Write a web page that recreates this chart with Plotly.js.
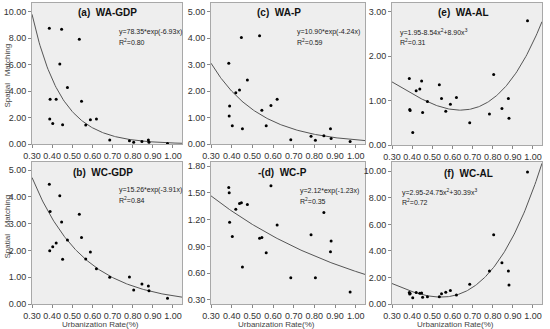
<!DOCTYPE html>
<html>
<head>
<meta charset="utf-8">
<script src="https://cdn.plot.ly/plotly-3.0.1.min.js"></script>
<style>html,body{margin:0;padding:0;background:#fff;}#chart{width:550px;height:329px;}</style>
</head>
<body>
<div id="chart"></div>
<script>
// Urbanization rate of each region (shared x values)
const urbanRate = [0.386, 0.388, 0.390, 0.403, 0.420, 0.438, 0.447, 0.452, 0.476, 0.535, 0.546, 0.567, 0.590, 0.620, 0.686, 0.784, 0.805, 0.846, 0.878, 0.881, 0.973];
// Spatial matching values per panel
const waGdp = [8.74, 1.89, 3.38, 1.54, 3.38, 6.05, 8.67, 1.46, 4.26, 7.91, 3.22, 1.44, 1.84, 1.89, 0.30, 0.25, 0.13, 0.18, 0.30, 0.13, 0.03];
const waP   = [3.05, 1.06, 1.44, 0.69, 1.94, 2.04, 4.03, 0.58, 2.42, 4.09, 1.28, 0.69, 1.46, 1.69, 0.16, 0.29, 0.14, 0.31, 0.58, 0.21, 0.09];
const waAl  = [1.50, 0.80, 0.78, 0.28, 1.22, 1.26, 1.44, 0.73, 0.98, 1.36, 1.05, 0.76, 0.92, 1.07, 0.50, 0.70, 1.59, 0.82, 1.05, 0.60, 2.80];
const wcGdp = [4.47, 1.99, 3.45, 2.14, 2.28, 4.04, 3.06, 1.67, 2.39, 3.35, 2.48, 1.68, 1.94, 1.32, 1.00, 1.01, 0.52, 0.75, 0.67, 0.49, 0.21];
const wcP   = [1.56, 1.50, 1.17, 1.01, 1.315, 1.38, 1.39, 0.67, 1.37, 0.99, 1.00, 0.83, 1.58, 1.14, 0.55, 1.03, 0.55, 1.28, 0.84, 0.96, 0.39];
const wcAl  = [0.86, 0.76, 0.80, 0.48, 0.86, 0.81, 0.83, 0.50, 0.55, 0.55, 0.78, 0.88, 1.01, 0.68, 1.49, 2.49, 5.21, 3.10, 2.49, 1.44, 9.95];
// Fitted model coefficients shown on the chart
const fitWaGdp = [78.35, -6.93];   // a*exp(b x)
const fitWaP   = [10.90, -4.24];
const fitWcGdp = [15.26, -3.91];
const fitWcP   = [2.12, -1.23];
const fitWaAl  = [1.95, -8.54, 8.90];   // c0 + c2 x^2 + c3 x^3
const fitWcAl  = [2.95, -24.75, 30.39];
// Labels
const panelTitles = ["(a)  WA-GDP", "(c)  WA-P", "(e)  WA-AL", "(b)  WC-GDP", "-(d)  WC-P", "(f)  WC-AL"];
const eqTexts = ["y=78.35*exp(-6.93x)", "y=10.90*exp(-4.24x)", "y=1.95-8.54x<sup>2</sup>+8.90x<sup>3</sup>",
                 "y=15.26*exp(-3.91x)", "y=2.12*exp(-1.23x)", "y=2.95-24.75x<sup>2</sup>+30.39x<sup>3</sup>"];
const r2Texts = ["R<sup>2</sup>=0.80", "R<sup>2</sup>=0.59", "R<sup>2</sup>=0.31", "R<sup>2</sup>=0.84", "R<sup>2</sup>=0.35", "R<sup>2</sup>=0.72"];
const xTitle = "Urbanization Rate(%)";
const yTitle = "Spatial   Matching";

const W = 550, H = 329;
const px = x => x / W, py = y => 1 - y / H;
const FONT = "Liberation Sans, Arial, sans-serif";

// panel boxes in pixels [left, right, top, bottom]
const boxes = [[32,182,3,144],[211,365,3,144],[392,542,3,145],[32,182,162,304],[211,365,162,304],[392,542,162,304]];
const yRanges = [[0,10.65],[0,5.33],[0,3.2],[0,5.3],[0.255,1.845],[0,10.7]];
const yDticks = [2,1,1,1,0.3,2];
const yTick0 = [0,0,0,0,0.3,0];
const series = [waGdp, waP, waAl, wcGdp, wcP, wcAl];
const expFit = c => x => c[0]*Math.exp(c[1]*x);
const cubFit = c => x => c[0] + c[1]*x*x + c[2]*x*x*x;
const fits = [expFit(fitWaGdp), expFit(fitWaP), cubFit(fitWaAl), expFit(fitWcGdp), expFit(fitWcP), cubFit(fitWcAl)];

const grid = [];
for (let i = 0; i <= 149; i++) grid.push(0.30 + i*0.005);

const data = [], layout = {
  width: W, height: H, margin: {l:0,r:0,t:0,b:0}, paper_bgcolor: "#ffffff",
  showlegend: false, font: {family: FONT, color: "#333"}, annotations: [], shapes: []
};

for (let k = 0; k < 6; k++) {
  const s = k === 0 ? "" : String(k+1);
  const b = boxes[k];
  data.push({x: grid, y: grid.map(fits[k]), xaxis: "x"+s, yaxis: "y"+s, type: "scatter", mode: "lines",
             line: {color: "#555", width: 1}, hoverinfo: "skip"});
  data.push({x: urbanRate, y: series[k], xaxis: "x"+s, yaxis: "y"+s, type: "scatter", mode: "markers",
             marker: {color: "#000", size: 3, symbol: "circle"}});
  const axCommon = {showgrid: false, zeroline: false, showline: true, mirror: true, linecolor: "#a8a8a8", linewidth: 1,
                    ticks: "outside", ticklen: 3, tickcolor: "#888", tickfont: {size: 9, color: "#333", family: FONT},
                    tickangle: 0, tickformat: ".2f", fixedrange: true};
  layout["xaxis"+s] = Object.assign({}, axCommon, {domain: [px(b[0]), px(b[1])], range: [0.30, 1.045],
                    tick0: 0.3, dtick: 0.1, anchor: "y"+s});
  layout["yaxis"+s] = Object.assign({}, axCommon, {domain: [py(b[3]), py(b[2])], range: yRanges[k],
                    tick0: yTick0[k], dtick: yDticks[k], anchor: "x"+s});
  layout.shapes.push({type: "rect", xref: "paper", yref: "paper",
    x0: px(b[0]), x1: px(b[1]), y0: py(b[3]), y1: py(b[2]), fillcolor: "#eeeeee", line: {width: 0}, layer: "below"});
}

const titlePos = [[107,13],[279,13],[463,13],[103,172],[282,172],[468,173]];
const eqPos = [[117,32],[295,32],[398,32],[117,190],[298,191],[400,192]];
titlePos.forEach((p, k) => layout.annotations.push({xref: "paper", yref: "paper", x: px(p[0]), y: py(p[1]),
  text: "<b>" + panelTitles[k] + "</b>", showarrow: false, xanchor: "center", yanchor: "middle",
  font: {size: 10, color: "#111", family: FONT}}));
eqPos.forEach((p, k) => {
  layout.annotations.push({xref: "paper", yref: "paper", x: px(p[0]), y: py(p[1]), text: eqTexts[k], showarrow: false,
    xanchor: "left", yanchor: "middle", font: {size: 7, color: "#222", family: FONT}});
  layout.annotations.push({xref: "paper", yref: "paper", x: px(p[0]), y: py(p[1]+10), text: r2Texts[k], showarrow: false,
    xanchor: "left", yanchor: "middle", font: {size: 7, color: "#222", family: FONT}});
});
[[100,324],[276,324],[455,324]].forEach(p => layout.annotations.push({xref: "paper", yref: "paper", x: px(p[0]), y: py(p[1]),
  text: xTitle, showarrow: false, xanchor: "center", yanchor: "middle", font: {size: 8, color: "#444", family: FONT}}));
[[6.5,76],[6.5,227]].forEach(p => layout.annotations.push({xref: "paper", yref: "paper", x: px(p[0]), y: py(p[1]),
  text: yTitle, textangle: -90, showarrow: false, xanchor: "center", yanchor: "middle", font: {size: 8, color: "#444", family: FONT}}));

Plotly.newPlot("chart", data, layout, {staticPlot: true, displayModeBar: false});
</script>
</body>
</html>
